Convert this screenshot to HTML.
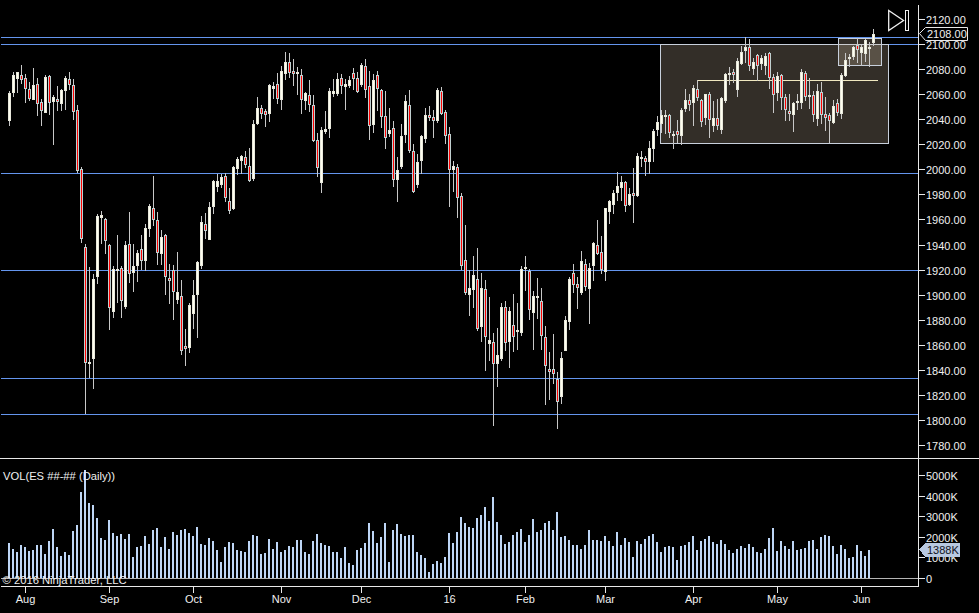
<!DOCTYPE html>
<html><head><meta charset="utf-8"><style>
html,body{margin:0;padding:0;background:#000;width:979px;height:613px;overflow:hidden}
svg{display:block}
.t{font-family:"Liberation Sans",sans-serif;font-size:11px;fill:#f0f0f0}
</style></head><body>
<svg width="979" height="613" viewBox="0 0 979 613" shape-rendering="crispEdges">
<rect x="1" y="37" width="917" height="1" fill="#6495ED"/>
<rect x="1" y="44" width="917" height="1" fill="#6495ED"/>
<rect x="1" y="173" width="917" height="1" fill="#6495ED"/>
<rect x="1" y="270" width="917" height="1" fill="#6495ED"/>
<rect x="1" y="378" width="917" height="1" fill="#6495ED"/>
<rect x="1" y="414" width="917" height="1" fill="#6495ED"/>
<rect x="660" y="44" width="229" height="100" fill="rgba(212,191,166,0.24)"/>
<rect x="660.5" y="44.5" width="228" height="99" fill="none" stroke="#c8d0dc" stroke-width="1"/>
<rect x="838" y="38" width="44" height="28" fill="rgba(212,191,166,0.24)"/>
<rect x="838.5" y="38.5" width="43" height="27" fill="none" stroke="#c8d0dc" stroke-width="1"/>
<rect x="697" y="80" width="181" height="1" fill="#f0e8c0"/>
<rect x="9" y="91" width="1" height="35" fill="#c8c8c8"/>
<rect x="8" y="93" width="3" height="28" fill="#e8e8dc"/>
<rect x="9" y="94" width="1" height="26" fill="#fffff0"/>
<rect x="13" y="72" width="1" height="25" fill="#c8c8c8"/>
<rect x="12" y="75" width="3" height="18" fill="#e8e8dc"/>
<rect x="13" y="76" width="1" height="16" fill="#fffff0"/>
<rect x="17" y="72" width="1" height="21" fill="#c8c8c8"/>
<rect x="16" y="72" width="3" height="7" fill="#e8e8dc"/>
<rect x="17" y="73" width="1" height="5" fill="#fffff0"/>
<rect x="21" y="65" width="1" height="19" fill="#c8c8c8"/>
<rect x="20" y="75" width="3" height="5" fill="#c0d0d0"/>
<rect x="21" y="76" width="1" height="3" fill="#ff0000"/>
<rect x="25" y="74" width="1" height="29" fill="#c8c8c8"/>
<rect x="24" y="78" width="3" height="11" fill="#c0d0d0"/>
<rect x="25" y="79" width="1" height="9" fill="#ff0000"/>
<rect x="29" y="82" width="1" height="19" fill="#c8c8c8"/>
<rect x="28" y="89" width="3" height="10" fill="#c0d0d0"/>
<rect x="29" y="90" width="1" height="8" fill="#ff0000"/>
<rect x="33" y="68" width="1" height="32" fill="#c8c8c8"/>
<rect x="32" y="85" width="3" height="15" fill="#e8e8dc"/>
<rect x="33" y="86" width="1" height="13" fill="#fffff0"/>
<rect x="37" y="78" width="1" height="38" fill="#c8c8c8"/>
<rect x="36" y="84" width="3" height="20" fill="#c0d0d0"/>
<rect x="37" y="85" width="1" height="18" fill="#ff0000"/>
<rect x="41" y="99" width="1" height="27" fill="#c8c8c8"/>
<rect x="40" y="102" width="3" height="9" fill="#c0d0d0"/>
<rect x="41" y="103" width="1" height="7" fill="#ff0000"/>
<rect x="45" y="75" width="1" height="38" fill="#c8c8c8"/>
<rect x="44" y="77" width="3" height="36" fill="#e8e8dc"/>
<rect x="45" y="78" width="1" height="34" fill="#fffff0"/>
<rect x="49" y="75" width="1" height="40" fill="#c8c8c8"/>
<rect x="48" y="76" width="3" height="27" fill="#c0d0d0"/>
<rect x="49" y="77" width="1" height="25" fill="#ff0000"/>
<rect x="53" y="95" width="1" height="50" fill="#c8c8c8"/>
<rect x="52" y="97" width="3" height="5" fill="#e8e8dc"/>
<rect x="53" y="98" width="1" height="3" fill="#fffff0"/>
<rect x="57" y="86" width="1" height="25" fill="#c8c8c8"/>
<rect x="56" y="99" width="3" height="3" fill="#c0d0d0"/>
<rect x="57" y="100" width="1" height="1" fill="#ff0000"/>
<rect x="61" y="89" width="1" height="22" fill="#c8c8c8"/>
<rect x="60" y="90" width="3" height="14" fill="#e8e8dc"/>
<rect x="61" y="91" width="1" height="12" fill="#fffff0"/>
<rect x="65" y="76" width="1" height="34" fill="#c8c8c8"/>
<rect x="64" y="78" width="3" height="13" fill="#e8e8dc"/>
<rect x="65" y="79" width="1" height="11" fill="#fffff0"/>
<rect x="69" y="72" width="1" height="18" fill="#c8c8c8"/>
<rect x="68" y="79" width="3" height="6" fill="#c0d0d0"/>
<rect x="69" y="80" width="1" height="4" fill="#ff0000"/>
<rect x="73" y="79" width="1" height="41" fill="#c8c8c8"/>
<rect x="72" y="85" width="3" height="27" fill="#c0d0d0"/>
<rect x="73" y="86" width="1" height="25" fill="#ff0000"/>
<rect x="77" y="105" width="1" height="68" fill="#c8c8c8"/>
<rect x="76" y="110" width="3" height="61" fill="#c0d0d0"/>
<rect x="77" y="111" width="1" height="59" fill="#ff0000"/>
<rect x="81" y="167" width="1" height="76" fill="#c8c8c8"/>
<rect x="80" y="169" width="3" height="70" fill="#c0d0d0"/>
<rect x="81" y="170" width="1" height="68" fill="#ff0000"/>
<rect x="85" y="244" width="1" height="170" fill="#c8c8c8"/>
<rect x="84" y="247" width="3" height="116" fill="#c0d0d0"/>
<rect x="85" y="248" width="1" height="114" fill="#ff0000"/>
<rect x="89" y="267" width="1" height="111" fill="#c8c8c8"/>
<rect x="88" y="362" width="3" height="2" fill="#e8e8dc"/>
<rect x="93" y="274" width="1" height="115" fill="#c8c8c8"/>
<rect x="92" y="279" width="3" height="80" fill="#e8e8dc"/>
<rect x="93" y="280" width="1" height="78" fill="#fffff0"/>
<rect x="97" y="214" width="1" height="70" fill="#c8c8c8"/>
<rect x="96" y="216" width="3" height="61" fill="#e8e8dc"/>
<rect x="97" y="217" width="1" height="59" fill="#fffff0"/>
<rect x="101" y="211" width="1" height="33" fill="#c8c8c8"/>
<rect x="100" y="215" width="3" height="3" fill="#e8e8dc"/>
<rect x="101" y="216" width="1" height="1" fill="#fffff0"/>
<rect x="105" y="218" width="1" height="36" fill="#c8c8c8"/>
<rect x="104" y="219" width="3" height="22" fill="#c0d0d0"/>
<rect x="105" y="220" width="1" height="20" fill="#ff0000"/>
<rect x="109" y="244" width="1" height="86" fill="#c8c8c8"/>
<rect x="108" y="245" width="3" height="63" fill="#c0d0d0"/>
<rect x="109" y="246" width="1" height="61" fill="#ff0000"/>
<rect x="113" y="266" width="1" height="52" fill="#c8c8c8"/>
<rect x="112" y="269" width="3" height="43" fill="#e8e8dc"/>
<rect x="113" y="270" width="1" height="41" fill="#fffff0"/>
<rect x="117" y="235" width="1" height="68" fill="#c8c8c8"/>
<rect x="116" y="269" width="3" height="2" fill="#e8e8dc"/>
<rect x="121" y="266" width="1" height="52" fill="#c8c8c8"/>
<rect x="120" y="268" width="3" height="33" fill="#c0d0d0"/>
<rect x="121" y="269" width="1" height="31" fill="#ff0000"/>
<rect x="125" y="241" width="1" height="68" fill="#c8c8c8"/>
<rect x="124" y="245" width="3" height="62" fill="#e8e8dc"/>
<rect x="125" y="246" width="1" height="60" fill="#fffff0"/>
<rect x="129" y="212" width="1" height="71" fill="#c8c8c8"/>
<rect x="128" y="244" width="3" height="30" fill="#c0d0d0"/>
<rect x="129" y="245" width="1" height="28" fill="#ff0000"/>
<rect x="133" y="244" width="1" height="48" fill="#c8c8c8"/>
<rect x="132" y="266" width="3" height="7" fill="#e8e8dc"/>
<rect x="133" y="267" width="1" height="5" fill="#fffff0"/>
<rect x="137" y="250" width="1" height="32" fill="#c8c8c8"/>
<rect x="136" y="253" width="3" height="13" fill="#e8e8dc"/>
<rect x="137" y="254" width="1" height="11" fill="#fffff0"/>
<rect x="141" y="235" width="1" height="35" fill="#c8c8c8"/>
<rect x="140" y="249" width="3" height="12" fill="#c0d0d0"/>
<rect x="141" y="250" width="1" height="10" fill="#ff0000"/>
<rect x="145" y="224" width="1" height="47" fill="#c8c8c8"/>
<rect x="144" y="228" width="3" height="33" fill="#e8e8dc"/>
<rect x="145" y="229" width="1" height="31" fill="#fffff0"/>
<rect x="149" y="204" width="1" height="33" fill="#c8c8c8"/>
<rect x="148" y="206" width="3" height="23" fill="#e8e8dc"/>
<rect x="149" y="207" width="1" height="21" fill="#fffff0"/>
<rect x="153" y="176" width="1" height="50" fill="#c8c8c8"/>
<rect x="152" y="208" width="3" height="12" fill="#c0d0d0"/>
<rect x="153" y="209" width="1" height="10" fill="#ff0000"/>
<rect x="157" y="212" width="1" height="53" fill="#c8c8c8"/>
<rect x="156" y="220" width="3" height="33" fill="#c0d0d0"/>
<rect x="157" y="221" width="1" height="31" fill="#ff0000"/>
<rect x="161" y="230" width="1" height="35" fill="#c8c8c8"/>
<rect x="160" y="237" width="3" height="17" fill="#e8e8dc"/>
<rect x="161" y="238" width="1" height="15" fill="#fffff0"/>
<rect x="165" y="234" width="1" height="61" fill="#c8c8c8"/>
<rect x="164" y="235" width="3" height="42" fill="#c0d0d0"/>
<rect x="165" y="236" width="1" height="40" fill="#ff0000"/>
<rect x="169" y="264" width="1" height="40" fill="#c8c8c8"/>
<rect x="168" y="278" width="3" height="3" fill="#c0d0d0"/>
<rect x="169" y="279" width="1" height="1" fill="#ff0000"/>
<rect x="173" y="265" width="1" height="55" fill="#c8c8c8"/>
<rect x="172" y="270" width="3" height="22" fill="#c0d0d0"/>
<rect x="173" y="271" width="1" height="20" fill="#ff0000"/>
<rect x="177" y="252" width="1" height="52" fill="#c8c8c8"/>
<rect x="176" y="292" width="3" height="8" fill="#e8e8dc"/>
<rect x="177" y="293" width="1" height="6" fill="#fffff0"/>
<rect x="181" y="280" width="1" height="75" fill="#c8c8c8"/>
<rect x="180" y="296" width="3" height="55" fill="#c0d0d0"/>
<rect x="181" y="297" width="1" height="53" fill="#ff0000"/>
<rect x="185" y="329" width="1" height="37" fill="#c8c8c8"/>
<rect x="184" y="346" width="3" height="3" fill="#c0d0d0"/>
<rect x="185" y="347" width="1" height="1" fill="#ff0000"/>
<rect x="189" y="303" width="1" height="50" fill="#c8c8c8"/>
<rect x="188" y="305" width="3" height="43" fill="#e8e8dc"/>
<rect x="189" y="306" width="1" height="41" fill="#fffff0"/>
<rect x="193" y="280" width="1" height="49" fill="#c8c8c8"/>
<rect x="192" y="295" width="3" height="19" fill="#e8e8dc"/>
<rect x="193" y="296" width="1" height="17" fill="#fffff0"/>
<rect x="197" y="261" width="1" height="77" fill="#c8c8c8"/>
<rect x="196" y="262" width="3" height="33" fill="#e8e8dc"/>
<rect x="197" y="263" width="1" height="31" fill="#fffff0"/>
<rect x="201" y="216" width="1" height="53" fill="#c8c8c8"/>
<rect x="200" y="222" width="3" height="44" fill="#e8e8dc"/>
<rect x="201" y="223" width="1" height="42" fill="#fffff0"/>
<rect x="205" y="213" width="1" height="26" fill="#c8c8c8"/>
<rect x="204" y="224" width="3" height="7" fill="#c0d0d0"/>
<rect x="205" y="225" width="1" height="5" fill="#ff0000"/>
<rect x="209" y="202" width="1" height="38" fill="#c8c8c8"/>
<rect x="208" y="207" width="3" height="33" fill="#e8e8dc"/>
<rect x="209" y="208" width="1" height="31" fill="#fffff0"/>
<rect x="213" y="180" width="1" height="34" fill="#c8c8c8"/>
<rect x="212" y="181" width="3" height="26" fill="#e8e8dc"/>
<rect x="213" y="182" width="1" height="24" fill="#fffff0"/>
<rect x="217" y="174" width="1" height="18" fill="#c8c8c8"/>
<rect x="216" y="181" width="3" height="6" fill="#e8e8dc"/>
<rect x="217" y="182" width="1" height="4" fill="#fffff0"/>
<rect x="221" y="174" width="1" height="14" fill="#c8c8c8"/>
<rect x="220" y="177" width="3" height="8" fill="#e8e8dc"/>
<rect x="221" y="178" width="1" height="6" fill="#fffff0"/>
<rect x="225" y="173" width="1" height="29" fill="#c8c8c8"/>
<rect x="224" y="176" width="3" height="22" fill="#c0d0d0"/>
<rect x="225" y="177" width="1" height="20" fill="#ff0000"/>
<rect x="229" y="188" width="1" height="26" fill="#c8c8c8"/>
<rect x="228" y="201" width="3" height="10" fill="#c0d0d0"/>
<rect x="229" y="202" width="1" height="8" fill="#ff0000"/>
<rect x="233" y="166" width="1" height="44" fill="#c8c8c8"/>
<rect x="232" y="167" width="3" height="42" fill="#e8e8dc"/>
<rect x="233" y="168" width="1" height="40" fill="#fffff0"/>
<rect x="237" y="157" width="1" height="18" fill="#c8c8c8"/>
<rect x="236" y="159" width="3" height="10" fill="#e8e8dc"/>
<rect x="237" y="160" width="1" height="8" fill="#fffff0"/>
<rect x="241" y="155" width="1" height="19" fill="#c8c8c8"/>
<rect x="240" y="156" width="3" height="5" fill="#e8e8dc"/>
<rect x="241" y="157" width="1" height="3" fill="#fffff0"/>
<rect x="245" y="151" width="1" height="17" fill="#c8c8c8"/>
<rect x="244" y="157" width="3" height="8" fill="#c0d0d0"/>
<rect x="245" y="158" width="1" height="6" fill="#ff0000"/>
<rect x="249" y="148" width="1" height="34" fill="#c8c8c8"/>
<rect x="248" y="166" width="3" height="15" fill="#c0d0d0"/>
<rect x="249" y="167" width="1" height="13" fill="#ff0000"/>
<rect x="253" y="120" width="1" height="61" fill="#c8c8c8"/>
<rect x="252" y="124" width="3" height="55" fill="#e8e8dc"/>
<rect x="253" y="125" width="1" height="53" fill="#fffff0"/>
<rect x="257" y="97" width="1" height="28" fill="#c8c8c8"/>
<rect x="256" y="108" width="3" height="16" fill="#e8e8dc"/>
<rect x="257" y="109" width="1" height="14" fill="#fffff0"/>
<rect x="261" y="105" width="1" height="14" fill="#c8c8c8"/>
<rect x="260" y="108" width="3" height="6" fill="#c0d0d0"/>
<rect x="261" y="109" width="1" height="4" fill="#ff0000"/>
<rect x="265" y="109" width="1" height="18" fill="#c8c8c8"/>
<rect x="264" y="111" width="3" height="4" fill="#c0d0d0"/>
<rect x="265" y="112" width="1" height="2" fill="#ff0000"/>
<rect x="269" y="84" width="1" height="38" fill="#c8c8c8"/>
<rect x="268" y="85" width="3" height="29" fill="#e8e8dc"/>
<rect x="269" y="86" width="1" height="27" fill="#fffff0"/>
<rect x="273" y="82" width="1" height="17" fill="#c8c8c8"/>
<rect x="272" y="86" width="3" height="3" fill="#e8e8dc"/>
<rect x="273" y="87" width="1" height="1" fill="#fffff0"/>
<rect x="277" y="73" width="1" height="31" fill="#c8c8c8"/>
<rect x="276" y="84" width="3" height="15" fill="#c0d0d0"/>
<rect x="277" y="85" width="1" height="13" fill="#ff0000"/>
<rect x="281" y="66" width="1" height="44" fill="#c8c8c8"/>
<rect x="280" y="71" width="3" height="29" fill="#e8e8dc"/>
<rect x="281" y="72" width="1" height="27" fill="#fffff0"/>
<rect x="285" y="52" width="1" height="28" fill="#c8c8c8"/>
<rect x="284" y="62" width="3" height="12" fill="#e8e8dc"/>
<rect x="285" y="63" width="1" height="10" fill="#fffff0"/>
<rect x="289" y="53" width="1" height="25" fill="#c8c8c8"/>
<rect x="288" y="62" width="3" height="11" fill="#c0d0d0"/>
<rect x="289" y="63" width="1" height="9" fill="#ff0000"/>
<rect x="293" y="59" width="1" height="27" fill="#c8c8c8"/>
<rect x="292" y="71" width="3" height="3" fill="#c0d0d0"/>
<rect x="293" y="72" width="1" height="1" fill="#ff0000"/>
<rect x="297" y="67" width="1" height="28" fill="#c8c8c8"/>
<rect x="296" y="72" width="3" height="2" fill="#e8e8dc"/>
<rect x="301" y="69" width="1" height="45" fill="#c8c8c8"/>
<rect x="300" y="75" width="3" height="25" fill="#c0d0d0"/>
<rect x="301" y="76" width="1" height="23" fill="#ff0000"/>
<rect x="305" y="92" width="1" height="18" fill="#c8c8c8"/>
<rect x="304" y="93" width="3" height="8" fill="#e8e8dc"/>
<rect x="305" y="94" width="1" height="6" fill="#fffff0"/>
<rect x="309" y="80" width="1" height="32" fill="#c8c8c8"/>
<rect x="308" y="95" width="3" height="10" fill="#c0d0d0"/>
<rect x="309" y="96" width="1" height="8" fill="#ff0000"/>
<rect x="313" y="95" width="1" height="47" fill="#c8c8c8"/>
<rect x="312" y="105" width="3" height="36" fill="#c0d0d0"/>
<rect x="313" y="106" width="1" height="34" fill="#ff0000"/>
<rect x="317" y="133" width="1" height="44" fill="#c8c8c8"/>
<rect x="316" y="140" width="3" height="28" fill="#c0d0d0"/>
<rect x="317" y="141" width="1" height="26" fill="#ff0000"/>
<rect x="321" y="127" width="1" height="66" fill="#c8c8c8"/>
<rect x="320" y="130" width="3" height="53" fill="#e8e8dc"/>
<rect x="321" y="131" width="1" height="51" fill="#fffff0"/>
<rect x="325" y="111" width="1" height="23" fill="#c8c8c8"/>
<rect x="324" y="129" width="3" height="3" fill="#e8e8dc"/>
<rect x="325" y="130" width="1" height="1" fill="#fffff0"/>
<rect x="329" y="88" width="1" height="50" fill="#c8c8c8"/>
<rect x="328" y="91" width="3" height="38" fill="#e8e8dc"/>
<rect x="329" y="92" width="1" height="36" fill="#fffff0"/>
<rect x="333" y="79" width="1" height="18" fill="#c8c8c8"/>
<rect x="332" y="91" width="3" height="3" fill="#e8e8dc"/>
<rect x="333" y="92" width="1" height="1" fill="#fffff0"/>
<rect x="337" y="73" width="1" height="23" fill="#c8c8c8"/>
<rect x="336" y="79" width="3" height="15" fill="#e8e8dc"/>
<rect x="337" y="80" width="1" height="13" fill="#fffff0"/>
<rect x="341" y="74" width="1" height="20" fill="#c8c8c8"/>
<rect x="340" y="78" width="3" height="8" fill="#c0d0d0"/>
<rect x="341" y="79" width="1" height="6" fill="#ff0000"/>
<rect x="345" y="79" width="1" height="31" fill="#c8c8c8"/>
<rect x="344" y="84" width="3" height="3" fill="#e8e8dc"/>
<rect x="345" y="85" width="1" height="1" fill="#fffff0"/>
<rect x="349" y="76" width="1" height="12" fill="#c8c8c8"/>
<rect x="348" y="80" width="3" height="6" fill="#e8e8dc"/>
<rect x="349" y="81" width="1" height="4" fill="#fffff0"/>
<rect x="353" y="68" width="1" height="22" fill="#c8c8c8"/>
<rect x="352" y="73" width="3" height="6" fill="#c0d0d0"/>
<rect x="353" y="74" width="1" height="4" fill="#ff0000"/>
<rect x="357" y="72" width="1" height="21" fill="#c8c8c8"/>
<rect x="356" y="78" width="3" height="14" fill="#c0d0d0"/>
<rect x="357" y="79" width="1" height="12" fill="#ff0000"/>
<rect x="361" y="63" width="1" height="24" fill="#c8c8c8"/>
<rect x="360" y="65" width="3" height="20" fill="#e8e8dc"/>
<rect x="361" y="66" width="1" height="18" fill="#fffff0"/>
<rect x="365" y="59" width="1" height="39" fill="#c8c8c8"/>
<rect x="364" y="66" width="3" height="24" fill="#c0d0d0"/>
<rect x="365" y="67" width="1" height="22" fill="#ff0000"/>
<rect x="369" y="71" width="1" height="69" fill="#c8c8c8"/>
<rect x="368" y="86" width="3" height="40" fill="#c0d0d0"/>
<rect x="369" y="87" width="1" height="38" fill="#ff0000"/>
<rect x="373" y="74" width="1" height="59" fill="#c8c8c8"/>
<rect x="372" y="80" width="3" height="45" fill="#e8e8dc"/>
<rect x="373" y="81" width="1" height="43" fill="#fffff0"/>
<rect x="377" y="71" width="1" height="40" fill="#c8c8c8"/>
<rect x="376" y="75" width="3" height="14" fill="#c0d0d0"/>
<rect x="377" y="76" width="1" height="12" fill="#ff0000"/>
<rect x="381" y="89" width="1" height="39" fill="#c8c8c8"/>
<rect x="380" y="90" width="3" height="27" fill="#c0d0d0"/>
<rect x="381" y="91" width="1" height="25" fill="#ff0000"/>
<rect x="385" y="91" width="1" height="58" fill="#c8c8c8"/>
<rect x="384" y="116" width="3" height="22" fill="#c0d0d0"/>
<rect x="385" y="117" width="1" height="20" fill="#ff0000"/>
<rect x="389" y="108" width="1" height="29" fill="#c8c8c8"/>
<rect x="388" y="130" width="3" height="4" fill="#e8e8dc"/>
<rect x="389" y="131" width="1" height="2" fill="#fffff0"/>
<rect x="393" y="121" width="1" height="66" fill="#c8c8c8"/>
<rect x="392" y="128" width="3" height="52" fill="#c0d0d0"/>
<rect x="393" y="129" width="1" height="50" fill="#ff0000"/>
<rect x="397" y="157" width="1" height="45" fill="#c8c8c8"/>
<rect x="396" y="170" width="3" height="10" fill="#e8e8dc"/>
<rect x="397" y="171" width="1" height="8" fill="#fffff0"/>
<rect x="401" y="124" width="1" height="45" fill="#c8c8c8"/>
<rect x="400" y="136" width="3" height="31" fill="#e8e8dc"/>
<rect x="401" y="137" width="1" height="29" fill="#fffff0"/>
<rect x="405" y="95" width="1" height="48" fill="#c8c8c8"/>
<rect x="404" y="101" width="3" height="34" fill="#e8e8dc"/>
<rect x="405" y="102" width="1" height="32" fill="#fffff0"/>
<rect x="409" y="90" width="1" height="63" fill="#c8c8c8"/>
<rect x="408" y="105" width="3" height="46" fill="#c0d0d0"/>
<rect x="409" y="106" width="1" height="44" fill="#ff0000"/>
<rect x="413" y="144" width="1" height="49" fill="#c8c8c8"/>
<rect x="412" y="151" width="3" height="41" fill="#c0d0d0"/>
<rect x="413" y="152" width="1" height="39" fill="#ff0000"/>
<rect x="417" y="154" width="1" height="34" fill="#c8c8c8"/>
<rect x="416" y="162" width="3" height="23" fill="#e8e8dc"/>
<rect x="417" y="163" width="1" height="21" fill="#fffff0"/>
<rect x="421" y="135" width="1" height="39" fill="#c8c8c8"/>
<rect x="420" y="136" width="3" height="25" fill="#e8e8dc"/>
<rect x="421" y="137" width="1" height="23" fill="#fffff0"/>
<rect x="425" y="108" width="1" height="35" fill="#c8c8c8"/>
<rect x="424" y="115" width="3" height="24" fill="#e8e8dc"/>
<rect x="425" y="116" width="1" height="22" fill="#fffff0"/>
<rect x="429" y="106" width="1" height="15" fill="#c8c8c8"/>
<rect x="428" y="115" width="3" height="3" fill="#c0d0d0"/>
<rect x="429" y="116" width="1" height="1" fill="#ff0000"/>
<rect x="433" y="110" width="1" height="28" fill="#c8c8c8"/>
<rect x="432" y="117" width="3" height="4" fill="#c0d0d0"/>
<rect x="433" y="118" width="1" height="2" fill="#ff0000"/>
<rect x="437" y="88" width="1" height="35" fill="#c8c8c8"/>
<rect x="436" y="90" width="3" height="31" fill="#e8e8dc"/>
<rect x="437" y="91" width="1" height="29" fill="#fffff0"/>
<rect x="441" y="87" width="1" height="28" fill="#c8c8c8"/>
<rect x="440" y="91" width="3" height="23" fill="#c0d0d0"/>
<rect x="441" y="92" width="1" height="21" fill="#ff0000"/>
<rect x="445" y="110" width="1" height="34" fill="#c8c8c8"/>
<rect x="444" y="112" width="3" height="24" fill="#c0d0d0"/>
<rect x="445" y="113" width="1" height="22" fill="#ff0000"/>
<rect x="449" y="127" width="1" height="80" fill="#c8c8c8"/>
<rect x="448" y="134" width="3" height="36" fill="#c0d0d0"/>
<rect x="449" y="135" width="1" height="34" fill="#ff0000"/>
<rect x="453" y="161" width="1" height="31" fill="#c8c8c8"/>
<rect x="452" y="166" width="3" height="4" fill="#e8e8dc"/>
<rect x="453" y="167" width="1" height="2" fill="#fffff0"/>
<rect x="457" y="164" width="1" height="54" fill="#c8c8c8"/>
<rect x="456" y="167" width="3" height="31" fill="#c0d0d0"/>
<rect x="457" y="168" width="1" height="29" fill="#ff0000"/>
<rect x="461" y="193" width="1" height="77" fill="#c8c8c8"/>
<rect x="460" y="196" width="3" height="70" fill="#c0d0d0"/>
<rect x="461" y="197" width="1" height="68" fill="#ff0000"/>
<rect x="465" y="225" width="1" height="70" fill="#c8c8c8"/>
<rect x="464" y="260" width="3" height="33" fill="#c0d0d0"/>
<rect x="465" y="261" width="1" height="31" fill="#ff0000"/>
<rect x="469" y="270" width="1" height="46" fill="#c8c8c8"/>
<rect x="468" y="288" width="3" height="7" fill="#e8e8dc"/>
<rect x="469" y="289" width="1" height="5" fill="#fffff0"/>
<rect x="473" y="256" width="1" height="52" fill="#c8c8c8"/>
<rect x="472" y="275" width="3" height="15" fill="#e8e8dc"/>
<rect x="473" y="276" width="1" height="13" fill="#fffff0"/>
<rect x="477" y="248" width="1" height="83" fill="#c8c8c8"/>
<rect x="476" y="279" width="3" height="50" fill="#c0d0d0"/>
<rect x="477" y="280" width="1" height="48" fill="#ff0000"/>
<rect x="481" y="273" width="1" height="69" fill="#c8c8c8"/>
<rect x="480" y="288" width="3" height="39" fill="#e8e8dc"/>
<rect x="481" y="289" width="1" height="37" fill="#fffff0"/>
<rect x="485" y="280" width="1" height="91" fill="#c8c8c8"/>
<rect x="484" y="289" width="3" height="48" fill="#c0d0d0"/>
<rect x="485" y="290" width="1" height="46" fill="#ff0000"/>
<rect x="489" y="297" width="1" height="64" fill="#c8c8c8"/>
<rect x="488" y="340" width="3" height="4" fill="#e8e8dc"/>
<rect x="489" y="341" width="1" height="2" fill="#fffff0"/>
<rect x="493" y="333" width="1" height="93" fill="#c8c8c8"/>
<rect x="492" y="342" width="3" height="22" fill="#c0d0d0"/>
<rect x="493" y="343" width="1" height="20" fill="#ff0000"/>
<rect x="497" y="328" width="1" height="59" fill="#c8c8c8"/>
<rect x="496" y="355" width="3" height="9" fill="#e8e8dc"/>
<rect x="497" y="356" width="1" height="7" fill="#fffff0"/>
<rect x="501" y="303" width="1" height="58" fill="#c8c8c8"/>
<rect x="500" y="307" width="3" height="52" fill="#e8e8dc"/>
<rect x="501" y="308" width="1" height="50" fill="#fffff0"/>
<rect x="505" y="301" width="1" height="50" fill="#c8c8c8"/>
<rect x="504" y="307" width="3" height="36" fill="#c0d0d0"/>
<rect x="505" y="308" width="1" height="34" fill="#ff0000"/>
<rect x="509" y="307" width="1" height="61" fill="#c8c8c8"/>
<rect x="508" y="311" width="3" height="31" fill="#e8e8dc"/>
<rect x="509" y="312" width="1" height="29" fill="#fffff0"/>
<rect x="513" y="294" width="1" height="58" fill="#c8c8c8"/>
<rect x="512" y="325" width="3" height="12" fill="#c0d0d0"/>
<rect x="513" y="326" width="1" height="10" fill="#ff0000"/>
<rect x="517" y="303" width="1" height="47" fill="#c8c8c8"/>
<rect x="516" y="330" width="3" height="2" fill="#e8e8dc"/>
<rect x="521" y="266" width="1" height="70" fill="#c8c8c8"/>
<rect x="520" y="269" width="3" height="64" fill="#e8e8dc"/>
<rect x="521" y="270" width="1" height="62" fill="#fffff0"/>
<rect x="525" y="256" width="1" height="35" fill="#c8c8c8"/>
<rect x="524" y="267" width="3" height="2" fill="#e8e8dc"/>
<rect x="529" y="269" width="1" height="51" fill="#c8c8c8"/>
<rect x="528" y="271" width="3" height="39" fill="#c0d0d0"/>
<rect x="529" y="272" width="1" height="37" fill="#ff0000"/>
<rect x="533" y="291" width="1" height="59" fill="#c8c8c8"/>
<rect x="532" y="296" width="3" height="17" fill="#e8e8dc"/>
<rect x="533" y="297" width="1" height="15" fill="#fffff0"/>
<rect x="537" y="278" width="1" height="41" fill="#c8c8c8"/>
<rect x="536" y="296" width="3" height="2" fill="#e8e8dc"/>
<rect x="541" y="288" width="1" height="62" fill="#c8c8c8"/>
<rect x="540" y="301" width="3" height="35" fill="#c0d0d0"/>
<rect x="541" y="302" width="1" height="33" fill="#ff0000"/>
<rect x="545" y="326" width="1" height="79" fill="#c8c8c8"/>
<rect x="544" y="337" width="3" height="29" fill="#c0d0d0"/>
<rect x="545" y="338" width="1" height="27" fill="#ff0000"/>
<rect x="549" y="352" width="1" height="48" fill="#c8c8c8"/>
<rect x="548" y="369" width="3" height="3" fill="#c0d0d0"/>
<rect x="549" y="370" width="1" height="1" fill="#ff0000"/>
<rect x="553" y="334" width="1" height="50" fill="#c8c8c8"/>
<rect x="552" y="369" width="3" height="5" fill="#c0d0d0"/>
<rect x="553" y="370" width="1" height="3" fill="#ff0000"/>
<rect x="557" y="372" width="1" height="57" fill="#c8c8c8"/>
<rect x="556" y="379" width="3" height="23" fill="#c0d0d0"/>
<rect x="557" y="380" width="1" height="21" fill="#ff0000"/>
<rect x="561" y="352" width="1" height="52" fill="#c8c8c8"/>
<rect x="560" y="358" width="3" height="39" fill="#e8e8dc"/>
<rect x="561" y="359" width="1" height="37" fill="#fffff0"/>
<rect x="565" y="316" width="1" height="35" fill="#c8c8c8"/>
<rect x="564" y="320" width="3" height="31" fill="#e8e8dc"/>
<rect x="565" y="321" width="1" height="29" fill="#fffff0"/>
<rect x="569" y="277" width="1" height="53" fill="#c8c8c8"/>
<rect x="568" y="279" width="3" height="43" fill="#e8e8dc"/>
<rect x="569" y="280" width="1" height="41" fill="#fffff0"/>
<rect x="573" y="264" width="1" height="29" fill="#c8c8c8"/>
<rect x="572" y="273" width="3" height="12" fill="#c0d0d0"/>
<rect x="573" y="274" width="1" height="10" fill="#ff0000"/>
<rect x="577" y="277" width="1" height="32" fill="#c8c8c8"/>
<rect x="576" y="284" width="3" height="4" fill="#c0d0d0"/>
<rect x="577" y="285" width="1" height="2" fill="#ff0000"/>
<rect x="581" y="251" width="1" height="44" fill="#c8c8c8"/>
<rect x="580" y="261" width="3" height="32" fill="#e8e8dc"/>
<rect x="581" y="262" width="1" height="30" fill="#fffff0"/>
<rect x="585" y="259" width="1" height="32" fill="#c8c8c8"/>
<rect x="584" y="264" width="3" height="23" fill="#c0d0d0"/>
<rect x="585" y="265" width="1" height="21" fill="#ff0000"/>
<rect x="589" y="263" width="1" height="61" fill="#c8c8c8"/>
<rect x="588" y="268" width="3" height="21" fill="#e8e8dc"/>
<rect x="589" y="269" width="1" height="19" fill="#fffff0"/>
<rect x="593" y="242" width="1" height="39" fill="#c8c8c8"/>
<rect x="592" y="243" width="3" height="23" fill="#e8e8dc"/>
<rect x="593" y="244" width="1" height="21" fill="#fffff0"/>
<rect x="597" y="220" width="1" height="35" fill="#c8c8c8"/>
<rect x="596" y="245" width="3" height="9" fill="#c0d0d0"/>
<rect x="597" y="246" width="1" height="7" fill="#ff0000"/>
<rect x="601" y="236" width="1" height="38" fill="#c8c8c8"/>
<rect x="600" y="252" width="3" height="18" fill="#c0d0d0"/>
<rect x="601" y="253" width="1" height="16" fill="#ff0000"/>
<rect x="605" y="208" width="1" height="73" fill="#c8c8c8"/>
<rect x="604" y="208" width="3" height="64" fill="#e8e8dc"/>
<rect x="605" y="209" width="1" height="62" fill="#fffff0"/>
<rect x="609" y="200" width="1" height="24" fill="#c8c8c8"/>
<rect x="608" y="201" width="3" height="11" fill="#e8e8dc"/>
<rect x="609" y="202" width="1" height="9" fill="#fffff0"/>
<rect x="613" y="190" width="1" height="24" fill="#c8c8c8"/>
<rect x="612" y="193" width="3" height="12" fill="#e8e8dc"/>
<rect x="613" y="194" width="1" height="10" fill="#fffff0"/>
<rect x="617" y="172" width="1" height="29" fill="#c8c8c8"/>
<rect x="616" y="186" width="3" height="7" fill="#e8e8dc"/>
<rect x="617" y="187" width="1" height="5" fill="#fffff0"/>
<rect x="621" y="176" width="1" height="25" fill="#c8c8c8"/>
<rect x="620" y="182" width="3" height="6" fill="#e8e8dc"/>
<rect x="621" y="183" width="1" height="4" fill="#fffff0"/>
<rect x="625" y="181" width="1" height="31" fill="#c8c8c8"/>
<rect x="624" y="182" width="3" height="24" fill="#c0d0d0"/>
<rect x="625" y="183" width="1" height="22" fill="#ff0000"/>
<rect x="629" y="188" width="1" height="18" fill="#c8c8c8"/>
<rect x="628" y="194" width="3" height="11" fill="#e8e8dc"/>
<rect x="629" y="195" width="1" height="9" fill="#fffff0"/>
<rect x="633" y="168" width="1" height="55" fill="#c8c8c8"/>
<rect x="632" y="193" width="3" height="3" fill="#c0d0d0"/>
<rect x="633" y="194" width="1" height="1" fill="#ff0000"/>
<rect x="637" y="153" width="1" height="44" fill="#c8c8c8"/>
<rect x="636" y="156" width="3" height="40" fill="#e8e8dc"/>
<rect x="637" y="157" width="1" height="38" fill="#fffff0"/>
<rect x="641" y="151" width="1" height="16" fill="#c8c8c8"/>
<rect x="640" y="157" width="3" height="2" fill="#e8e8dc"/>
<rect x="645" y="156" width="1" height="20" fill="#c8c8c8"/>
<rect x="644" y="158" width="3" height="4" fill="#c0d0d0"/>
<rect x="645" y="159" width="1" height="2" fill="#ff0000"/>
<rect x="649" y="141" width="1" height="33" fill="#c8c8c8"/>
<rect x="648" y="148" width="3" height="14" fill="#e8e8dc"/>
<rect x="649" y="149" width="1" height="12" fill="#fffff0"/>
<rect x="653" y="129" width="1" height="33" fill="#c8c8c8"/>
<rect x="652" y="131" width="3" height="18" fill="#e8e8dc"/>
<rect x="653" y="132" width="1" height="16" fill="#fffff0"/>
<rect x="657" y="116" width="1" height="20" fill="#c8c8c8"/>
<rect x="656" y="122" width="3" height="8" fill="#e8e8dc"/>
<rect x="657" y="123" width="1" height="6" fill="#fffff0"/>
<rect x="661" y="110" width="1" height="23" fill="#c8c8c8"/>
<rect x="660" y="115" width="3" height="9" fill="#e8e8dc"/>
<rect x="661" y="116" width="1" height="7" fill="#fffff0"/>
<rect x="665" y="110" width="1" height="24" fill="#c8c8c8"/>
<rect x="664" y="115" width="3" height="2" fill="#e8e8dc"/>
<rect x="669" y="114" width="1" height="24" fill="#c8c8c8"/>
<rect x="668" y="115" width="3" height="18" fill="#c0d0d0"/>
<rect x="669" y="116" width="1" height="16" fill="#ff0000"/>
<rect x="673" y="131" width="1" height="18" fill="#c8c8c8"/>
<rect x="672" y="134" width="3" height="2" fill="#e8e8dc"/>
<rect x="677" y="120" width="1" height="23" fill="#c8c8c8"/>
<rect x="676" y="131" width="3" height="4" fill="#c0d0d0"/>
<rect x="677" y="132" width="1" height="2" fill="#ff0000"/>
<rect x="681" y="108" width="1" height="37" fill="#c8c8c8"/>
<rect x="680" y="110" width="3" height="26" fill="#e8e8dc"/>
<rect x="681" y="111" width="1" height="24" fill="#fffff0"/>
<rect x="685" y="89" width="1" height="23" fill="#c8c8c8"/>
<rect x="684" y="100" width="3" height="9" fill="#e8e8dc"/>
<rect x="685" y="101" width="1" height="7" fill="#fffff0"/>
<rect x="689" y="94" width="1" height="17" fill="#c8c8c8"/>
<rect x="688" y="100" width="3" height="5" fill="#c0d0d0"/>
<rect x="689" y="101" width="1" height="3" fill="#ff0000"/>
<rect x="693" y="85" width="1" height="41" fill="#c8c8c8"/>
<rect x="692" y="88" width="3" height="15" fill="#e8e8dc"/>
<rect x="693" y="89" width="1" height="13" fill="#fffff0"/>
<rect x="697" y="80" width="1" height="21" fill="#c8c8c8"/>
<rect x="696" y="89" width="3" height="9" fill="#c0d0d0"/>
<rect x="697" y="90" width="1" height="7" fill="#ff0000"/>
<rect x="701" y="99" width="1" height="28" fill="#c8c8c8"/>
<rect x="700" y="100" width="3" height="22" fill="#c0d0d0"/>
<rect x="701" y="101" width="1" height="20" fill="#ff0000"/>
<rect x="705" y="94" width="1" height="31" fill="#c8c8c8"/>
<rect x="704" y="94" width="3" height="24" fill="#e8e8dc"/>
<rect x="705" y="95" width="1" height="22" fill="#fffff0"/>
<rect x="709" y="92" width="1" height="46" fill="#c8c8c8"/>
<rect x="708" y="94" width="3" height="26" fill="#c0d0d0"/>
<rect x="709" y="95" width="1" height="24" fill="#ff0000"/>
<rect x="713" y="101" width="1" height="31" fill="#c8c8c8"/>
<rect x="712" y="118" width="3" height="8" fill="#e8e8dc"/>
<rect x="713" y="119" width="1" height="6" fill="#fffff0"/>
<rect x="717" y="99" width="1" height="31" fill="#c8c8c8"/>
<rect x="716" y="118" width="3" height="8" fill="#c0d0d0"/>
<rect x="717" y="119" width="1" height="6" fill="#ff0000"/>
<rect x="721" y="97" width="1" height="37" fill="#c8c8c8"/>
<rect x="720" y="98" width="3" height="32" fill="#e8e8dc"/>
<rect x="721" y="99" width="1" height="30" fill="#fffff0"/>
<rect x="725" y="73" width="1" height="30" fill="#c8c8c8"/>
<rect x="724" y="74" width="3" height="27" fill="#e8e8dc"/>
<rect x="725" y="75" width="1" height="25" fill="#fffff0"/>
<rect x="729" y="67" width="1" height="18" fill="#c8c8c8"/>
<rect x="728" y="73" width="3" height="2" fill="#e8e8dc"/>
<rect x="733" y="69" width="1" height="14" fill="#c8c8c8"/>
<rect x="732" y="72" width="3" height="3" fill="#c0d0d0"/>
<rect x="733" y="73" width="1" height="1" fill="#ff0000"/>
<rect x="737" y="58" width="1" height="39" fill="#c8c8c8"/>
<rect x="736" y="61" width="3" height="29" fill="#e8e8dc"/>
<rect x="737" y="62" width="1" height="27" fill="#fffff0"/>
<rect x="741" y="46" width="1" height="19" fill="#c8c8c8"/>
<rect x="740" y="52" width="3" height="12" fill="#e8e8dc"/>
<rect x="741" y="53" width="1" height="10" fill="#fffff0"/>
<rect x="745" y="37" width="1" height="26" fill="#c8c8c8"/>
<rect x="744" y="47" width="3" height="4" fill="#e8e8dc"/>
<rect x="745" y="48" width="1" height="2" fill="#fffff0"/>
<rect x="749" y="39" width="1" height="32" fill="#c8c8c8"/>
<rect x="748" y="47" width="3" height="19" fill="#c0d0d0"/>
<rect x="749" y="48" width="1" height="17" fill="#ff0000"/>
<rect x="753" y="58" width="1" height="17" fill="#c8c8c8"/>
<rect x="752" y="62" width="3" height="7" fill="#e8e8dc"/>
<rect x="753" y="63" width="1" height="5" fill="#fffff0"/>
<rect x="757" y="54" width="1" height="27" fill="#c8c8c8"/>
<rect x="756" y="55" width="3" height="11" fill="#c0d0d0"/>
<rect x="757" y="56" width="1" height="9" fill="#ff0000"/>
<rect x="761" y="55" width="1" height="15" fill="#c8c8c8"/>
<rect x="760" y="58" width="3" height="6" fill="#e8e8dc"/>
<rect x="761" y="59" width="1" height="4" fill="#fffff0"/>
<rect x="765" y="53" width="1" height="22" fill="#c8c8c8"/>
<rect x="764" y="56" width="3" height="10" fill="#e8e8dc"/>
<rect x="765" y="57" width="1" height="8" fill="#fffff0"/>
<rect x="769" y="52" width="1" height="37" fill="#c8c8c8"/>
<rect x="768" y="53" width="3" height="25" fill="#c0d0d0"/>
<rect x="769" y="54" width="1" height="23" fill="#ff0000"/>
<rect x="773" y="74" width="1" height="39" fill="#c8c8c8"/>
<rect x="772" y="77" width="3" height="18" fill="#c0d0d0"/>
<rect x="773" y="78" width="1" height="16" fill="#ff0000"/>
<rect x="777" y="72" width="1" height="29" fill="#c8c8c8"/>
<rect x="776" y="76" width="3" height="17" fill="#e8e8dc"/>
<rect x="777" y="77" width="1" height="15" fill="#fffff0"/>
<rect x="781" y="74" width="1" height="36" fill="#c8c8c8"/>
<rect x="780" y="75" width="3" height="23" fill="#c0d0d0"/>
<rect x="781" y="76" width="1" height="21" fill="#ff0000"/>
<rect x="785" y="94" width="1" height="27" fill="#c8c8c8"/>
<rect x="784" y="97" width="3" height="13" fill="#c0d0d0"/>
<rect x="785" y="98" width="1" height="11" fill="#ff0000"/>
<rect x="789" y="94" width="1" height="27" fill="#c8c8c8"/>
<rect x="788" y="111" width="3" height="3" fill="#c0d0d0"/>
<rect x="789" y="112" width="1" height="1" fill="#ff0000"/>
<rect x="793" y="102" width="1" height="30" fill="#c8c8c8"/>
<rect x="792" y="103" width="3" height="12" fill="#e8e8dc"/>
<rect x="793" y="104" width="1" height="10" fill="#fffff0"/>
<rect x="797" y="94" width="1" height="16" fill="#c8c8c8"/>
<rect x="796" y="101" width="3" height="2" fill="#e8e8dc"/>
<rect x="801" y="69" width="1" height="40" fill="#c8c8c8"/>
<rect x="800" y="72" width="3" height="31" fill="#e8e8dc"/>
<rect x="801" y="73" width="1" height="29" fill="#fffff0"/>
<rect x="805" y="71" width="1" height="30" fill="#c8c8c8"/>
<rect x="804" y="73" width="3" height="24" fill="#c0d0d0"/>
<rect x="805" y="74" width="1" height="22" fill="#ff0000"/>
<rect x="809" y="78" width="1" height="31" fill="#c8c8c8"/>
<rect x="808" y="95" width="3" height="2" fill="#e8e8dc"/>
<rect x="813" y="91" width="1" height="31" fill="#c8c8c8"/>
<rect x="812" y="95" width="3" height="20" fill="#c0d0d0"/>
<rect x="813" y="96" width="1" height="18" fill="#ff0000"/>
<rect x="817" y="84" width="1" height="42" fill="#c8c8c8"/>
<rect x="816" y="91" width="3" height="28" fill="#e8e8dc"/>
<rect x="817" y="92" width="1" height="26" fill="#fffff0"/>
<rect x="821" y="82" width="1" height="42" fill="#c8c8c8"/>
<rect x="820" y="92" width="3" height="23" fill="#c0d0d0"/>
<rect x="821" y="93" width="1" height="21" fill="#ff0000"/>
<rect x="825" y="97" width="1" height="34" fill="#c8c8c8"/>
<rect x="824" y="114" width="3" height="4" fill="#c0d0d0"/>
<rect x="825" y="115" width="1" height="2" fill="#ff0000"/>
<rect x="829" y="113" width="1" height="30" fill="#c8c8c8"/>
<rect x="828" y="115" width="3" height="6" fill="#c0d0d0"/>
<rect x="829" y="116" width="1" height="4" fill="#ff0000"/>
<rect x="833" y="100" width="1" height="24" fill="#c8c8c8"/>
<rect x="832" y="106" width="3" height="17" fill="#e8e8dc"/>
<rect x="833" y="107" width="1" height="15" fill="#fffff0"/>
<rect x="837" y="99" width="1" height="17" fill="#c8c8c8"/>
<rect x="836" y="103" width="3" height="10" fill="#c0d0d0"/>
<rect x="837" y="104" width="1" height="8" fill="#ff0000"/>
<rect x="841" y="73" width="1" height="46" fill="#c8c8c8"/>
<rect x="840" y="75" width="3" height="39" fill="#e8e8dc"/>
<rect x="841" y="76" width="1" height="37" fill="#fffff0"/>
<rect x="845" y="53" width="1" height="24" fill="#c8c8c8"/>
<rect x="844" y="60" width="3" height="16" fill="#e8e8dc"/>
<rect x="845" y="61" width="1" height="14" fill="#fffff0"/>
<rect x="849" y="54" width="1" height="13" fill="#c8c8c8"/>
<rect x="848" y="57" width="3" height="2" fill="#e8e8dc"/>
<rect x="853" y="46" width="1" height="14" fill="#c8c8c8"/>
<rect x="852" y="47" width="3" height="10" fill="#e8e8dc"/>
<rect x="853" y="48" width="1" height="8" fill="#fffff0"/>
<rect x="857" y="38" width="1" height="25" fill="#c8c8c8"/>
<rect x="856" y="45" width="3" height="5" fill="#c0d0d0"/>
<rect x="857" y="46" width="1" height="3" fill="#ff0000"/>
<rect x="861" y="45" width="1" height="21" fill="#c8c8c8"/>
<rect x="860" y="47" width="3" height="6" fill="#e8e8dc"/>
<rect x="861" y="48" width="1" height="4" fill="#fffff0"/>
<rect x="865" y="39" width="1" height="23" fill="#c8c8c8"/>
<rect x="864" y="40" width="3" height="14" fill="#e8e8dc"/>
<rect x="865" y="41" width="1" height="12" fill="#fffff0"/>
<rect x="869" y="42" width="1" height="25" fill="#c8c8c8"/>
<rect x="868" y="47" width="3" height="2" fill="#e8e8dc"/>
<rect x="873" y="29" width="1" height="17" fill="#c8c8c8"/>
<rect x="872" y="34" width="3" height="9" fill="#e8e8dc"/>
<rect x="873" y="35" width="1" height="7" fill="#fffff0"/>
<rect x="918" y="5" width="1" height="582" fill="#e8e8e8"/>
<rect x="0" y="458" width="979" height="1" fill="#e8e8e8"/>
<rect x="919" y="19" width="6" height="1" fill="#e8e8e8"/>
<text x="926" y="24" class="t">2120.00</text>
<rect x="919" y="44" width="6" height="1" fill="#e8e8e8"/>
<text x="926" y="49" class="t">2100.00</text>
<rect x="919" y="69" width="6" height="1" fill="#e8e8e8"/>
<text x="926" y="74" class="t">2080.00</text>
<rect x="919" y="94" width="6" height="1" fill="#e8e8e8"/>
<text x="926" y="99" class="t">2060.00</text>
<rect x="919" y="119" width="6" height="1" fill="#e8e8e8"/>
<text x="926" y="124" class="t">2040.00</text>
<rect x="919" y="144" width="6" height="1" fill="#e8e8e8"/>
<text x="926" y="149" class="t">2020.00</text>
<rect x="919" y="169" width="6" height="1" fill="#e8e8e8"/>
<text x="926" y="174" class="t">2000.00</text>
<rect x="919" y="194" width="6" height="1" fill="#e8e8e8"/>
<text x="926" y="199" class="t">1980.00</text>
<rect x="919" y="219" width="6" height="1" fill="#e8e8e8"/>
<text x="926" y="224" class="t">1960.00</text>
<rect x="919" y="245" width="6" height="1" fill="#e8e8e8"/>
<text x="926" y="250" class="t">1940.00</text>
<rect x="919" y="270" width="6" height="1" fill="#e8e8e8"/>
<text x="926" y="275" class="t">1920.00</text>
<rect x="919" y="295" width="6" height="1" fill="#e8e8e8"/>
<text x="926" y="300" class="t">1900.00</text>
<rect x="919" y="320" width="6" height="1" fill="#e8e8e8"/>
<text x="926" y="325" class="t">1880.00</text>
<rect x="919" y="345" width="6" height="1" fill="#e8e8e8"/>
<text x="926" y="350" class="t">1860.00</text>
<rect x="919" y="370" width="6" height="1" fill="#e8e8e8"/>
<text x="926" y="375" class="t">1840.00</text>
<rect x="919" y="395" width="6" height="1" fill="#e8e8e8"/>
<text x="926" y="400" class="t">1820.00</text>
<rect x="919" y="420" width="6" height="1" fill="#e8e8e8"/>
<text x="926" y="425" class="t">1800.00</text>
<rect x="919" y="445" width="6" height="1" fill="#e8e8e8"/>
<text x="926" y="450" class="t">1780.00</text>
<rect x="919" y="578" width="6" height="1" fill="#e8e8e8"/>
<text x="926" y="583" class="t">0</text>
<rect x="919" y="557" width="6" height="1" fill="#e8e8e8"/>
<text x="926" y="562" class="t">1000K</text>
<rect x="919" y="537" width="6" height="1" fill="#e8e8e8"/>
<text x="926" y="542" class="t">2000K</text>
<rect x="919" y="516" width="6" height="1" fill="#e8e8e8"/>
<text x="926" y="521" class="t">3000K</text>
<rect x="919" y="496" width="6" height="1" fill="#e8e8e8"/>
<text x="926" y="501" class="t">4000K</text>
<rect x="919" y="475" width="6" height="1" fill="#e8e8e8"/>
<text x="926" y="480" class="t">5000K</text>
<rect x="8" y="543" width="2" height="35" fill="#bed6f6"/>
<rect x="12" y="549" width="2" height="29" fill="#bed6f6"/>
<rect x="16" y="552" width="2" height="26" fill="#bed6f6"/>
<rect x="20" y="545" width="2" height="33" fill="#bed6f6"/>
<rect x="24" y="547" width="2" height="31" fill="#bed6f6"/>
<rect x="28" y="551" width="2" height="27" fill="#bed6f6"/>
<rect x="32" y="550" width="2" height="28" fill="#bed6f6"/>
<rect x="36" y="545" width="2" height="33" fill="#bed6f6"/>
<rect x="40" y="545" width="2" height="33" fill="#bed6f6"/>
<rect x="44" y="554" width="2" height="24" fill="#bed6f6"/>
<rect x="48" y="541" width="2" height="37" fill="#bed6f6"/>
<rect x="52" y="529" width="2" height="49" fill="#bed6f6"/>
<rect x="56" y="547" width="2" height="31" fill="#bed6f6"/>
<rect x="60" y="556" width="2" height="22" fill="#bed6f6"/>
<rect x="64" y="552" width="2" height="26" fill="#bed6f6"/>
<rect x="68" y="555" width="2" height="23" fill="#bed6f6"/>
<rect x="72" y="531" width="2" height="47" fill="#bed6f6"/>
<rect x="76" y="525" width="2" height="53" fill="#bed6f6"/>
<rect x="80" y="492" width="2" height="86" fill="#bed6f6"/>
<rect x="84" y="470" width="2" height="108" fill="#bed6f6"/>
<rect x="88" y="503" width="2" height="75" fill="#bed6f6"/>
<rect x="92" y="505" width="2" height="73" fill="#bed6f6"/>
<rect x="96" y="518" width="2" height="60" fill="#bed6f6"/>
<rect x="100" y="538" width="2" height="40" fill="#bed6f6"/>
<rect x="104" y="540" width="2" height="38" fill="#bed6f6"/>
<rect x="108" y="520" width="2" height="58" fill="#bed6f6"/>
<rect x="112" y="533" width="2" height="45" fill="#bed6f6"/>
<rect x="116" y="536" width="2" height="42" fill="#bed6f6"/>
<rect x="120" y="534" width="2" height="44" fill="#bed6f6"/>
<rect x="124" y="539" width="2" height="39" fill="#bed6f6"/>
<rect x="128" y="534" width="2" height="44" fill="#bed6f6"/>
<rect x="132" y="557" width="2" height="21" fill="#bed6f6"/>
<rect x="136" y="547" width="2" height="31" fill="#bed6f6"/>
<rect x="140" y="546" width="2" height="32" fill="#bed6f6"/>
<rect x="144" y="536" width="2" height="42" fill="#bed6f6"/>
<rect x="148" y="544" width="2" height="34" fill="#bed6f6"/>
<rect x="152" y="530" width="2" height="48" fill="#bed6f6"/>
<rect x="156" y="528" width="2" height="50" fill="#bed6f6"/>
<rect x="160" y="547" width="2" height="31" fill="#bed6f6"/>
<rect x="164" y="537" width="2" height="41" fill="#bed6f6"/>
<rect x="168" y="549" width="2" height="29" fill="#bed6f6"/>
<rect x="172" y="532" width="2" height="46" fill="#bed6f6"/>
<rect x="176" y="535" width="2" height="43" fill="#bed6f6"/>
<rect x="180" y="530" width="2" height="48" fill="#bed6f6"/>
<rect x="184" y="529" width="2" height="49" fill="#bed6f6"/>
<rect x="188" y="533" width="2" height="45" fill="#bed6f6"/>
<rect x="192" y="536" width="2" height="42" fill="#bed6f6"/>
<rect x="196" y="527" width="2" height="51" fill="#bed6f6"/>
<rect x="200" y="544" width="2" height="34" fill="#bed6f6"/>
<rect x="204" y="545" width="2" height="33" fill="#bed6f6"/>
<rect x="208" y="538" width="2" height="40" fill="#bed6f6"/>
<rect x="212" y="541" width="2" height="37" fill="#bed6f6"/>
<rect x="216" y="550" width="2" height="28" fill="#bed6f6"/>
<rect x="220" y="562" width="2" height="16" fill="#bed6f6"/>
<rect x="224" y="547" width="2" height="31" fill="#bed6f6"/>
<rect x="228" y="542" width="2" height="36" fill="#bed6f6"/>
<rect x="232" y="543" width="2" height="35" fill="#bed6f6"/>
<rect x="236" y="550" width="2" height="28" fill="#bed6f6"/>
<rect x="240" y="551" width="2" height="27" fill="#bed6f6"/>
<rect x="244" y="552" width="2" height="26" fill="#bed6f6"/>
<rect x="248" y="541" width="2" height="37" fill="#bed6f6"/>
<rect x="252" y="535" width="2" height="43" fill="#bed6f6"/>
<rect x="256" y="536" width="2" height="42" fill="#bed6f6"/>
<rect x="260" y="554" width="2" height="24" fill="#bed6f6"/>
<rect x="264" y="553" width="2" height="25" fill="#bed6f6"/>
<rect x="268" y="539" width="2" height="39" fill="#bed6f6"/>
<rect x="272" y="549" width="2" height="29" fill="#bed6f6"/>
<rect x="276" y="542" width="2" height="36" fill="#bed6f6"/>
<rect x="280" y="552" width="2" height="26" fill="#bed6f6"/>
<rect x="284" y="550" width="2" height="28" fill="#bed6f6"/>
<rect x="288" y="546" width="2" height="32" fill="#bed6f6"/>
<rect x="292" y="547" width="2" height="31" fill="#bed6f6"/>
<rect x="296" y="540" width="2" height="38" fill="#bed6f6"/>
<rect x="300" y="540" width="2" height="38" fill="#bed6f6"/>
<rect x="304" y="552" width="2" height="26" fill="#bed6f6"/>
<rect x="308" y="554" width="2" height="24" fill="#bed6f6"/>
<rect x="312" y="541" width="2" height="37" fill="#bed6f6"/>
<rect x="316" y="534" width="2" height="44" fill="#bed6f6"/>
<rect x="320" y="543" width="2" height="35" fill="#bed6f6"/>
<rect x="324" y="545" width="2" height="33" fill="#bed6f6"/>
<rect x="328" y="546" width="2" height="32" fill="#bed6f6"/>
<rect x="332" y="552" width="2" height="26" fill="#bed6f6"/>
<rect x="336" y="552" width="2" height="26" fill="#bed6f6"/>
<rect x="340" y="558" width="2" height="20" fill="#bed6f6"/>
<rect x="344" y="547" width="2" height="31" fill="#bed6f6"/>
<rect x="348" y="563" width="2" height="15" fill="#bed6f6"/>
<rect x="352" y="565" width="2" height="13" fill="#bed6f6"/>
<rect x="356" y="550" width="2" height="28" fill="#bed6f6"/>
<rect x="360" y="548" width="2" height="30" fill="#bed6f6"/>
<rect x="364" y="543" width="2" height="35" fill="#bed6f6"/>
<rect x="368" y="523" width="2" height="55" fill="#bed6f6"/>
<rect x="372" y="531" width="2" height="47" fill="#bed6f6"/>
<rect x="376" y="543" width="2" height="35" fill="#bed6f6"/>
<rect x="380" y="537" width="2" height="41" fill="#bed6f6"/>
<rect x="384" y="523" width="2" height="55" fill="#bed6f6"/>
<rect x="388" y="562" width="2" height="16" fill="#bed6f6"/>
<rect x="392" y="530" width="2" height="48" fill="#bed6f6"/>
<rect x="396" y="524" width="2" height="54" fill="#bed6f6"/>
<rect x="400" y="534" width="2" height="44" fill="#bed6f6"/>
<rect x="404" y="536" width="2" height="42" fill="#bed6f6"/>
<rect x="408" y="535" width="2" height="43" fill="#bed6f6"/>
<rect x="412" y="535" width="2" height="43" fill="#bed6f6"/>
<rect x="416" y="552" width="2" height="26" fill="#bed6f6"/>
<rect x="420" y="555" width="2" height="23" fill="#bed6f6"/>
<rect x="424" y="558" width="2" height="20" fill="#bed6f6"/>
<rect x="428" y="572" width="2" height="6" fill="#bed6f6"/>
<rect x="432" y="564" width="2" height="14" fill="#bed6f6"/>
<rect x="436" y="561" width="2" height="17" fill="#bed6f6"/>
<rect x="440" y="563" width="2" height="15" fill="#bed6f6"/>
<rect x="444" y="557" width="2" height="21" fill="#bed6f6"/>
<rect x="448" y="533" width="2" height="45" fill="#bed6f6"/>
<rect x="452" y="543" width="2" height="35" fill="#bed6f6"/>
<rect x="456" y="532" width="2" height="46" fill="#bed6f6"/>
<rect x="460" y="517" width="2" height="61" fill="#bed6f6"/>
<rect x="464" y="523" width="2" height="55" fill="#bed6f6"/>
<rect x="468" y="527" width="2" height="51" fill="#bed6f6"/>
<rect x="472" y="528" width="2" height="50" fill="#bed6f6"/>
<rect x="476" y="518" width="2" height="60" fill="#bed6f6"/>
<rect x="480" y="515" width="2" height="63" fill="#bed6f6"/>
<rect x="484" y="507" width="2" height="71" fill="#bed6f6"/>
<rect x="488" y="521" width="2" height="57" fill="#bed6f6"/>
<rect x="492" y="497" width="2" height="81" fill="#bed6f6"/>
<rect x="496" y="522" width="2" height="56" fill="#bed6f6"/>
<rect x="500" y="535" width="2" height="43" fill="#bed6f6"/>
<rect x="504" y="544" width="2" height="34" fill="#bed6f6"/>
<rect x="508" y="542" width="2" height="36" fill="#bed6f6"/>
<rect x="512" y="535" width="2" height="43" fill="#bed6f6"/>
<rect x="516" y="532" width="2" height="46" fill="#bed6f6"/>
<rect x="520" y="529" width="2" height="49" fill="#bed6f6"/>
<rect x="524" y="542" width="2" height="36" fill="#bed6f6"/>
<rect x="528" y="535" width="2" height="43" fill="#bed6f6"/>
<rect x="532" y="519" width="2" height="59" fill="#bed6f6"/>
<rect x="536" y="532" width="2" height="46" fill="#bed6f6"/>
<rect x="540" y="530" width="2" height="48" fill="#bed6f6"/>
<rect x="544" y="523" width="2" height="55" fill="#bed6f6"/>
<rect x="548" y="521" width="2" height="57" fill="#bed6f6"/>
<rect x="552" y="530" width="2" height="48" fill="#bed6f6"/>
<rect x="556" y="512" width="2" height="66" fill="#bed6f6"/>
<rect x="560" y="537" width="2" height="41" fill="#bed6f6"/>
<rect x="564" y="536" width="2" height="42" fill="#bed6f6"/>
<rect x="568" y="540" width="2" height="38" fill="#bed6f6"/>
<rect x="572" y="545" width="2" height="33" fill="#bed6f6"/>
<rect x="576" y="545" width="2" height="33" fill="#bed6f6"/>
<rect x="580" y="549" width="2" height="29" fill="#bed6f6"/>
<rect x="584" y="545" width="2" height="33" fill="#bed6f6"/>
<rect x="588" y="530" width="2" height="48" fill="#bed6f6"/>
<rect x="592" y="540" width="2" height="38" fill="#bed6f6"/>
<rect x="596" y="540" width="2" height="38" fill="#bed6f6"/>
<rect x="600" y="541" width="2" height="37" fill="#bed6f6"/>
<rect x="604" y="536" width="2" height="42" fill="#bed6f6"/>
<rect x="608" y="541" width="2" height="37" fill="#bed6f6"/>
<rect x="612" y="546" width="2" height="32" fill="#bed6f6"/>
<rect x="616" y="532" width="2" height="46" fill="#bed6f6"/>
<rect x="620" y="545" width="2" height="33" fill="#bed6f6"/>
<rect x="624" y="538" width="2" height="40" fill="#bed6f6"/>
<rect x="628" y="542" width="2" height="36" fill="#bed6f6"/>
<rect x="632" y="557" width="2" height="21" fill="#bed6f6"/>
<rect x="636" y="541" width="2" height="37" fill="#bed6f6"/>
<rect x="640" y="544" width="2" height="34" fill="#bed6f6"/>
<rect x="644" y="539" width="2" height="39" fill="#bed6f6"/>
<rect x="648" y="536" width="2" height="42" fill="#bed6f6"/>
<rect x="652" y="534" width="2" height="44" fill="#bed6f6"/>
<rect x="656" y="542" width="2" height="36" fill="#bed6f6"/>
<rect x="660" y="552" width="2" height="26" fill="#bed6f6"/>
<rect x="664" y="547" width="2" height="31" fill="#bed6f6"/>
<rect x="668" y="546" width="2" height="32" fill="#bed6f6"/>
<rect x="672" y="547" width="2" height="31" fill="#bed6f6"/>
<rect x="676" y="560" width="2" height="18" fill="#bed6f6"/>
<rect x="680" y="546" width="2" height="32" fill="#bed6f6"/>
<rect x="684" y="545" width="2" height="33" fill="#bed6f6"/>
<rect x="688" y="542" width="2" height="36" fill="#bed6f6"/>
<rect x="692" y="536" width="2" height="42" fill="#bed6f6"/>
<rect x="696" y="550" width="2" height="28" fill="#bed6f6"/>
<rect x="700" y="541" width="2" height="37" fill="#bed6f6"/>
<rect x="704" y="539" width="2" height="39" fill="#bed6f6"/>
<rect x="708" y="536" width="2" height="42" fill="#bed6f6"/>
<rect x="712" y="542" width="2" height="36" fill="#bed6f6"/>
<rect x="716" y="544" width="2" height="34" fill="#bed6f6"/>
<rect x="720" y="540" width="2" height="38" fill="#bed6f6"/>
<rect x="724" y="544" width="2" height="34" fill="#bed6f6"/>
<rect x="728" y="550" width="2" height="28" fill="#bed6f6"/>
<rect x="732" y="553" width="2" height="25" fill="#bed6f6"/>
<rect x="736" y="549" width="2" height="29" fill="#bed6f6"/>
<rect x="740" y="546" width="2" height="32" fill="#bed6f6"/>
<rect x="744" y="548" width="2" height="30" fill="#bed6f6"/>
<rect x="748" y="544" width="2" height="34" fill="#bed6f6"/>
<rect x="752" y="547" width="2" height="31" fill="#bed6f6"/>
<rect x="756" y="552" width="2" height="26" fill="#bed6f6"/>
<rect x="760" y="553" width="2" height="25" fill="#bed6f6"/>
<rect x="764" y="549" width="2" height="29" fill="#bed6f6"/>
<rect x="768" y="538" width="2" height="40" fill="#bed6f6"/>
<rect x="772" y="528" width="2" height="50" fill="#bed6f6"/>
<rect x="776" y="551" width="2" height="27" fill="#bed6f6"/>
<rect x="780" y="541" width="2" height="37" fill="#bed6f6"/>
<rect x="784" y="546" width="2" height="32" fill="#bed6f6"/>
<rect x="788" y="549" width="2" height="29" fill="#bed6f6"/>
<rect x="792" y="541" width="2" height="37" fill="#bed6f6"/>
<rect x="796" y="550" width="2" height="28" fill="#bed6f6"/>
<rect x="800" y="549" width="2" height="29" fill="#bed6f6"/>
<rect x="804" y="548" width="2" height="30" fill="#bed6f6"/>
<rect x="808" y="541" width="2" height="37" fill="#bed6f6"/>
<rect x="812" y="540" width="2" height="38" fill="#bed6f6"/>
<rect x="816" y="549" width="2" height="29" fill="#bed6f6"/>
<rect x="820" y="537" width="2" height="41" fill="#bed6f6"/>
<rect x="824" y="535" width="2" height="43" fill="#bed6f6"/>
<rect x="828" y="536" width="2" height="42" fill="#bed6f6"/>
<rect x="832" y="546" width="2" height="32" fill="#bed6f6"/>
<rect x="836" y="554" width="2" height="24" fill="#bed6f6"/>
<rect x="840" y="545" width="2" height="33" fill="#bed6f6"/>
<rect x="844" y="549" width="2" height="29" fill="#bed6f6"/>
<rect x="848" y="558" width="2" height="20" fill="#bed6f6"/>
<rect x="852" y="557" width="2" height="21" fill="#bed6f6"/>
<rect x="856" y="545" width="2" height="33" fill="#bed6f6"/>
<rect x="860" y="551" width="2" height="27" fill="#bed6f6"/>
<rect x="864" y="556" width="2" height="22" fill="#bed6f6"/>
<rect x="868" y="550" width="2" height="28" fill="#bed6f6"/>
<rect x="1" y="578" width="917" height="1" fill="#b4b4b4"/>
<rect x="1" y="586" width="918" height="1" fill="#e8e8e8"/>
<rect x="25" y="587" width="1" height="6" fill="#e8e8e8"/>
<text x="25.5" y="603" class="t" text-anchor="middle">Aug</text>
<rect x="109" y="587" width="1" height="6" fill="#e8e8e8"/>
<text x="109.5" y="603" class="t" text-anchor="middle">Sep</text>
<rect x="193" y="587" width="1" height="6" fill="#e8e8e8"/>
<text x="193.5" y="603" class="t" text-anchor="middle">Oct</text>
<rect x="281" y="587" width="1" height="6" fill="#e8e8e8"/>
<text x="281.5" y="603" class="t" text-anchor="middle">Nov</text>
<rect x="361" y="587" width="1" height="6" fill="#e8e8e8"/>
<text x="361.5" y="603" class="t" text-anchor="middle">Dec</text>
<rect x="449" y="587" width="1" height="6" fill="#e8e8e8"/>
<text x="449.5" y="603" class="t" text-anchor="middle">16</text>
<rect x="525" y="587" width="1" height="6" fill="#e8e8e8"/>
<text x="525.5" y="603" class="t" text-anchor="middle">Feb</text>
<rect x="605" y="587" width="1" height="6" fill="#e8e8e8"/>
<text x="605.5" y="603" class="t" text-anchor="middle">Mar</text>
<rect x="693" y="587" width="1" height="6" fill="#e8e8e8"/>
<text x="693.5" y="603" class="t" text-anchor="middle">Apr</text>
<rect x="777" y="587" width="1" height="6" fill="#e8e8e8"/>
<text x="777.5" y="603" class="t" text-anchor="middle">May</text>
<rect x="861" y="587" width="1" height="6" fill="#e8e8e8"/>
<text x="861.5" y="603" class="t" text-anchor="middle">Jun</text>
<text x="3" y="480" class="t" textLength="112" lengthAdjust="spacingAndGlyphs">VOL(ES ##-## (Daily))</text>
<text x="2.5" y="584" class="t" textLength="124" lengthAdjust="spacingAndGlyphs">© 2016 NinjaTrader, LLC</text>
<path d="M919.5 33.5 L925.5 27.5 L967.5 27.5 L967.5 40.5 L925.5 40.5 Z" fill="#000" stroke="#e8e8e8" stroke-width="1" shape-rendering="auto"/>
<text x="927" y="38" class="t">2108.00</text>
<path d="M919 549.5 L925 543 L960 543 L960 556.5 L925 556.5 Z" fill="#b8c8e0"/>
<text x="927" y="554" class="t" fill="#101020" style="fill:#101020">1388K</text>
<path d="M888.7 10.5 L903.5 20.5 L888.7 30.5 Z" fill="none" stroke="#f0f0f0" stroke-width="1.3" shape-rendering="auto"/>
<rect x="905.5" y="10.5" width="3" height="20" fill="none" stroke="#f0f0f0" stroke-width="1"/>
</svg></body></html>
